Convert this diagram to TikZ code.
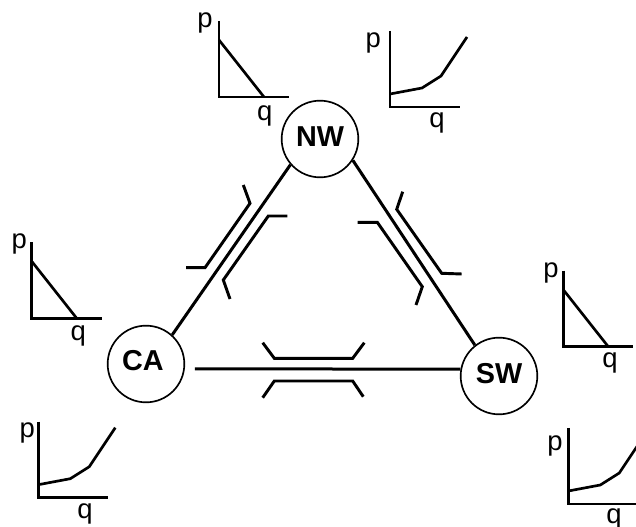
\documentclass[tikz,border=0pt]{standalone}
\usepackage{fontspec}
\setmainfont{Liberation Sans}
\begin{document}
\begin{tikzpicture}[x=0.75pt,y=-0.75pt,
  site/.style={draw, circle, line width=1.25pt, minimum size=57.5pt, inner sep=0pt,
    font=\fontsize{21.6}{24}\selectfont\bfseries},
  link/.style={line width=2.25pt},
  brk/.style={line width=2.2pt},
  ax/.style={line width=2pt},
  lbl/.style={inner sep=0pt, font=\fontsize{20.6}{24}\selectfont},
  demand/.pic={\draw[ax] (0,-76) -- (0,0) -- (70,0); \draw[ax] (0,-57) -- (45,0);},
  supply/.pic={\draw[ax] (0,-76) -- (0,0) -- (70,0); \draw[ax] (0,-13) -- (32,-19) -- (51,-31) -- (77,-70);}]
\useasboundingbox (0,0) rectangle (636,527);

% sites
\node[site] (NW) at (320,139) {\raisebox{3pt}{NW}};
\node[site] (CA) at (146,364) {\kern-4.5pt\raisebox{6pt}{CA}};
\node[site] (SW) at (499,376) {\raisebox{4.5pt}{SW}};

% links
\draw[link] (NW.221) -- (CA.48);
\draw[link] (NW.327) -- (SW.128);
\draw[link, shorten <=7.5pt] (CA.-7) -- (SW.170);

% brackets NW-CA
\draw[brk] (243.3,185) -- (250,203.3) -- (205,267.7) -- (186,267.7);
\draw[brk] (287.3,216) -- (268.3,216) -- (223.3,280) -- (230,299);
% brackets NW-SW
\draw[brk] (402.7,191.7) -- (396.7,209.3) -- (441.7,273.3) -- (461.7,274);
\draw[brk] (357.7,222.3) -- (377.3,222.3) -- (422.3,286.7) -- (416,305);
% brackets CA-SW
\draw[brk] (262.7,342.7) -- (274.3,358.3) -- (352.7,358.3) -- (364.3,342.7);
\draw[brk] (262.7,397.7) -- (274.3,381) -- (352.7,381) -- (363.3,396.7);

% charts
\pic at (219,97) {demand};
\node[lbl] (nwdp) at (205,23) {p};
\node[lbl] (nwdq) at (264.7,115.8) {q};

\pic at (390,107) {supply};
\node[lbl] (nwsp) at (373.3,43) {p};
\node[lbl] (nwsq) at (437,123) {q};

\pic at (31.7,318.3) {demand};
\node[lbl] (cadp) at (19.2,244) {p};
\node[lbl] (cadq) at (78.3,335.8) {q};

\pic at (38.3,497.7) {supply};
\node[lbl] (casp) at (27.2,433) {p};
\node[lbl] (casq) at (85,514) {q};

\pic at (563.3,346.7) {demand};
\node[lbl] (swdp) at (551,272.5) {p};
\node[lbl] (swdq) at (610,362.5) {q};

\pic at (568.3,504) {supply};
\node[lbl] (swsp) at (555,445.8) {p};
\node[lbl] (swsq) at (614,519) {q};
\end{tikzpicture}
\end{document}
